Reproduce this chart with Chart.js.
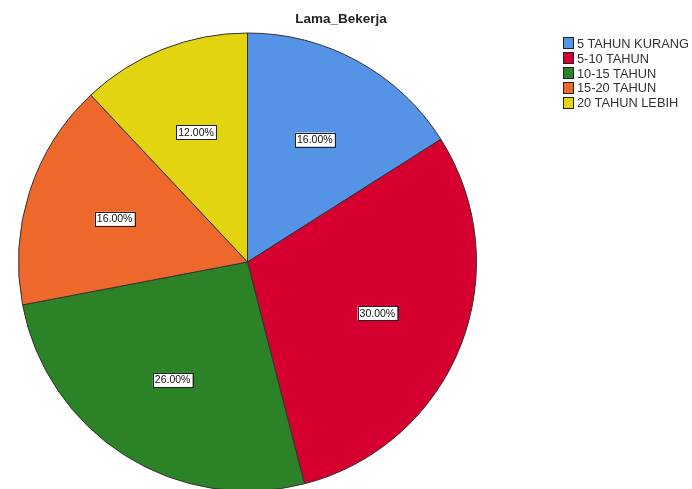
<!DOCTYPE html>
<html>
<head>
<meta charset="utf-8">
<script src="https://cdn.jsdelivr.net/npm/chart.js@4/dist/chart.umd.min.js"></script>
<style>
  body { margin: 0; background: #fff; }
  #wrap { position: relative; width: 692px; height: 489px; }
  #title { position: absolute; left: 241px; top: 11px; width: 200px; text-align: center;
    font: bold 13.5px "Liberation Sans", Arial, sans-serif; color: #222; }
  #legend { position: absolute; left: 563px; top: 36px; font: 12.8px "Liberation Sans", Arial, sans-serif; color: #333; }
  .item { display: flex; align-items: center; height: 14.8px; }
  .box { width: 9px; height: 10px; border: 1px solid #222; margin-right: 3px; }
</style>
</head>
<body>
<div id="wrap">
  <canvas id="pie" width="692" height="489"></canvas>
  <div id="title">Lama_Bekerja</div>
  <div id="legend"></div>
</div>
<script>
const categories = ['5 TAHUN KURANG', '5-10 TAHUN', '10-15 TAHUN', '15-20 TAHUN', '20 TAHUN LEBIH'];
const percents = [16, 30, 26, 16, 12];
const colors = ['#5593e6', '#d5002f', '#2b8227', '#ef682b', '#e2d410'];

const legend = document.getElementById('legend');
categories.forEach((c, i) => {
  const row = document.createElement('div');
  row.className = 'item';
  row.innerHTML = '<span class="box" style="background:' + colors[i] + '"></span>' + c;
  legend.appendChild(row);
});

// white boxed percentage labels, like the SPSS output
const boxLabels = {
  id: 'boxLabels',
  afterDatasetsDraw(chart) {
    const ctx = chart.ctx;
    const meta = chart.getDatasetMeta(0);
    ctx.save();
    ctx.font = '10.5px "Liberation Sans", Arial, sans-serif';
    ctx.textAlign = 'center';
    ctx.textBaseline = 'middle';
    meta.data.forEach((arc, i) => {
      const mid = (arc.startAngle + arc.endAngle) / 2;
      const r = arc.outerRadius * 0.61;
      const x = arc.x + Math.cos(mid) * r;
      const y = arc.y + Math.sin(mid) * r;
      const text = percents[i].toFixed(2) + '%';
      const w = ctx.measureText(text).width + 4;
      const h = 14;
      ctx.fillStyle = '#fff';
      ctx.fillRect(x - w / 2, y - h / 2, w, h);
      ctx.strokeStyle = '#222';
      ctx.lineWidth = 1;
      ctx.strokeRect(Math.round(x - w / 2) + 0.5, Math.round(y - h / 2) + 0.5, Math.round(w), h);
      ctx.fillStyle = '#111';
      ctx.fillText(text, x, y + 0.5);
    });
    ctx.restore();
  }
};

new Chart(document.getElementById('pie'), {
  type: 'pie',
  data: {
    labels: categories,
    datasets: [{
      data: percents,
      backgroundColor: colors,
      borderColor: '#333',
      borderWidth: 1
    }]
  },
  options: {
    responsive: false,
    animation: false,
    radius: 229,
    layout: { padding: { left: 0, right: 197, top: 35, bottom: 0 } },
    plugins: {
      legend: { display: false },
      tooltip: { enabled: false }
    }
  },
  plugins: [boxLabels]
});
</script>
</body>
</html>
